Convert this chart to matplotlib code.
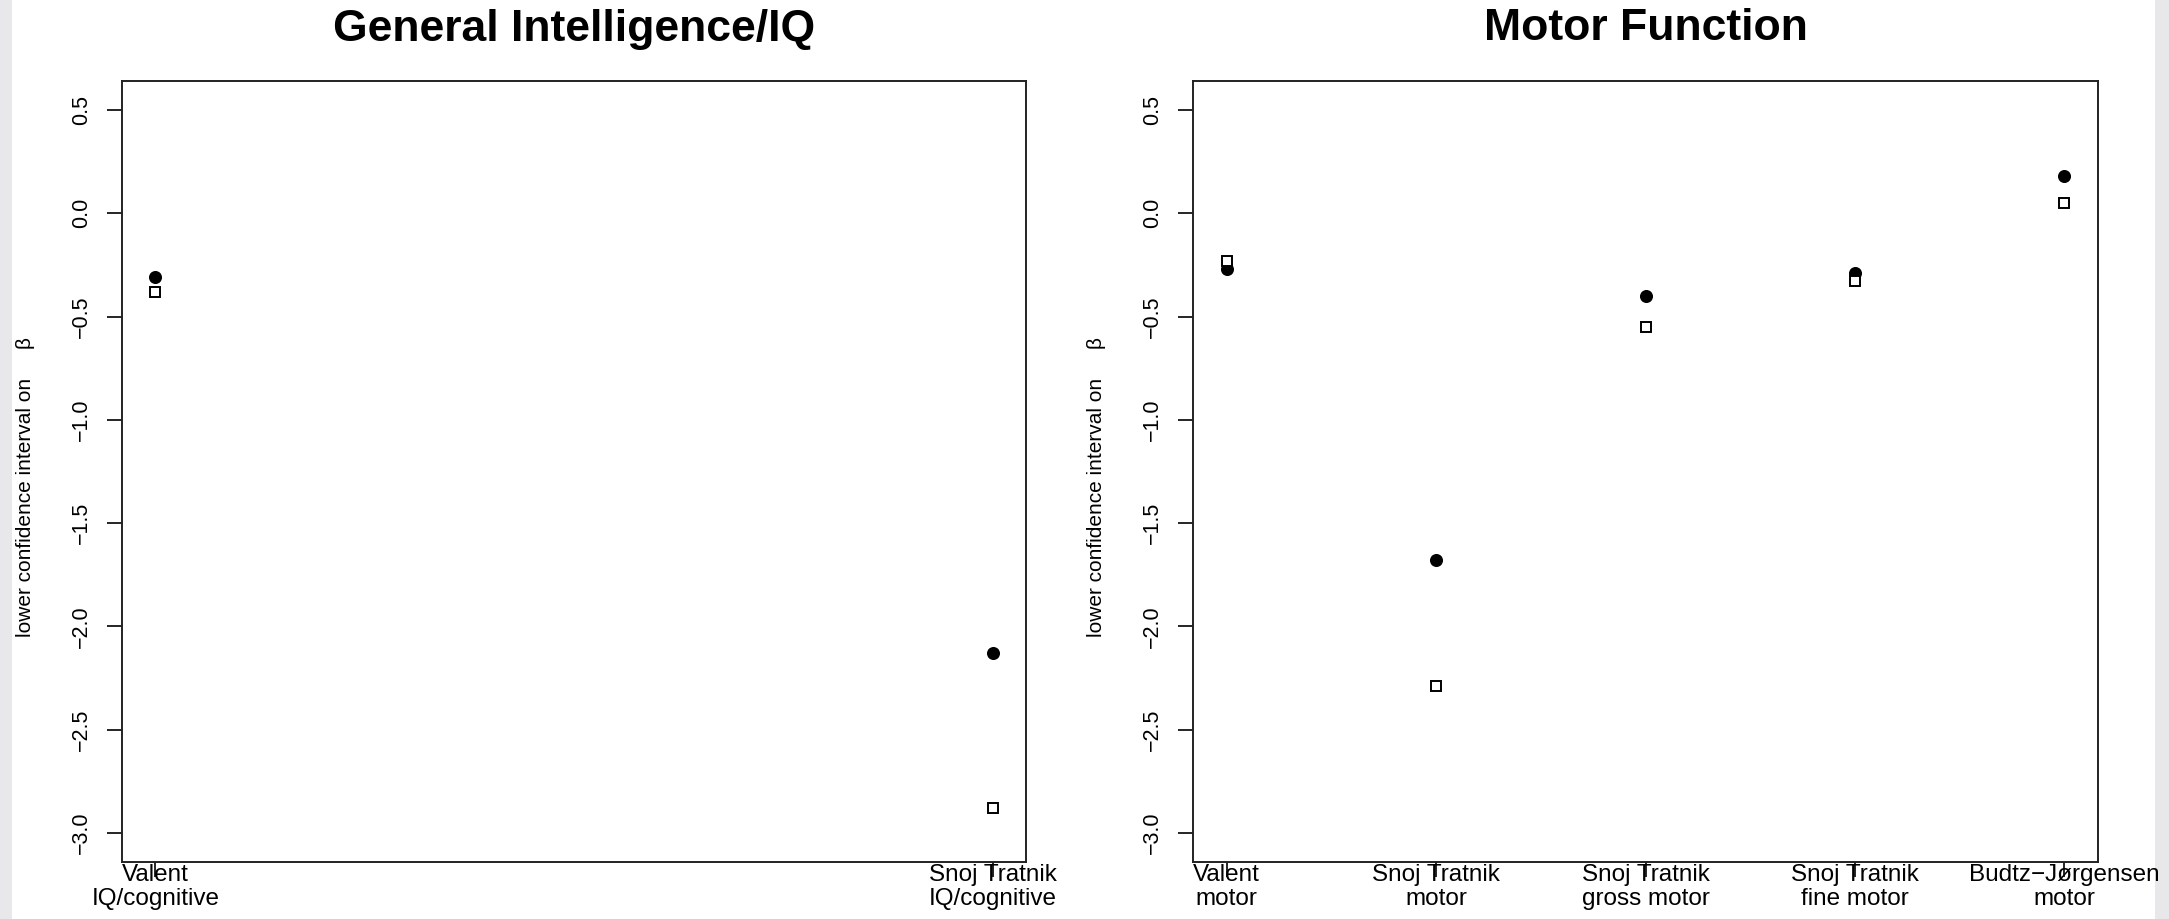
import matplotlib
matplotlib.use("Agg")
import matplotlib.pyplot as plt
from matplotlib.patches import Rectangle

# values (lower CI bound on beta)
iq_labels = ["Valent\nIQ/cognitive", "Snoj Tratnik\nIQ/cognitive"]
iq_filled = [-0.31, -2.13]
iq_open = [-0.38, -2.88]

motor_labels = ["Valent\nmotor", "Snoj Tratnik\nmotor", "Snoj Tratnik\ngross motor",
                "Snoj Tratnik\nfine motor", "Budtz\u2212J\u00f8rgensen\nmotor"]
motor_filled = [-0.27, -1.68, -0.40, -0.29, 0.18]
motor_open = [-0.23, -2.29, -0.55, -0.33, 0.05]

y_ticks = [0.5, 0.0, -0.5, -1.0, -1.5, -2.0, -2.5, -3.0]
titles = ["General Intelligence/IQ", "Motor Function"]

W, H = 2169, 919
plt.rcParams["font.family"] = ["Liberation Sans", "DejaVu Sans"]

fig = plt.figure(figsize=(W / 100, H / 100), dpi=100)
fig.patch.set_facecolor("#e8e8ea")
fig.add_artist(Rectangle((12 / W, 0), (2155 - 12) / W, 1, transform=fig.transFigure,
                         facecolor="white", edgecolor="none", zorder=-5))


def panel(x0, width, labels, filled, opened, title):
    ax = fig.add_axes([x0 / W, (H - 862) / H, width / W, 781 / H])
    xs = list(range(1, len(labels) + 1))
    ax.plot(xs, filled, "o", color="black", ms=9.4, mew=0, zorder=3)
    ax.plot(xs, opened, "s", mfc="white", mec="black", ms=6.6, mew=1.4, zorder=3)
    n = len(labels)
    pad = 0.04 * (n - 1)
    ax.set_xlim(1 - pad, n + pad)
    ax.set_ylim(-3.14, 0.64)
    ax.set_xticks(xs)
    ax.set_xticklabels(labels, fontsize=17.5, linespacing=1.1, multialignment="center")
    ax.set_yticks(y_ticks)
    ax.set_yticklabels([f"{v:.1f}".replace("-", "\u2212") for v in y_ticks], fontsize=15.5)
    ax.tick_params(axis="x", length=10.8, width=1.2, pad=-9.5)
    ax.tick_params(axis="y", length=10.8, width=1.2, pad=10.5, labelrotation=90)
    for t in ax.get_yticklabels():
        t.set_va("center")
    for s in ax.spines.values():
        s.set_linewidth(1.4)
        s.set_color("#222222")
    ax.text(-96 / width, 0.48, "lower confidence interval on     \u03b2", rotation=90,
            ha="center", va="center", fontsize=15, transform=ax.transAxes)
    ax.text(0.5, 1 + 52 / 781, title, ha="center", va="center", fontsize=32,
            fontweight="bold", transform=ax.transAxes)
    return ax


panel(122, 904, iq_labels, iq_filled, iq_open, titles[0])
panel(1193, 905, motor_labels, motor_filled, motor_open, titles[1])

fig.savefig("out.png", dpi=100, facecolor=fig.get_facecolor())
